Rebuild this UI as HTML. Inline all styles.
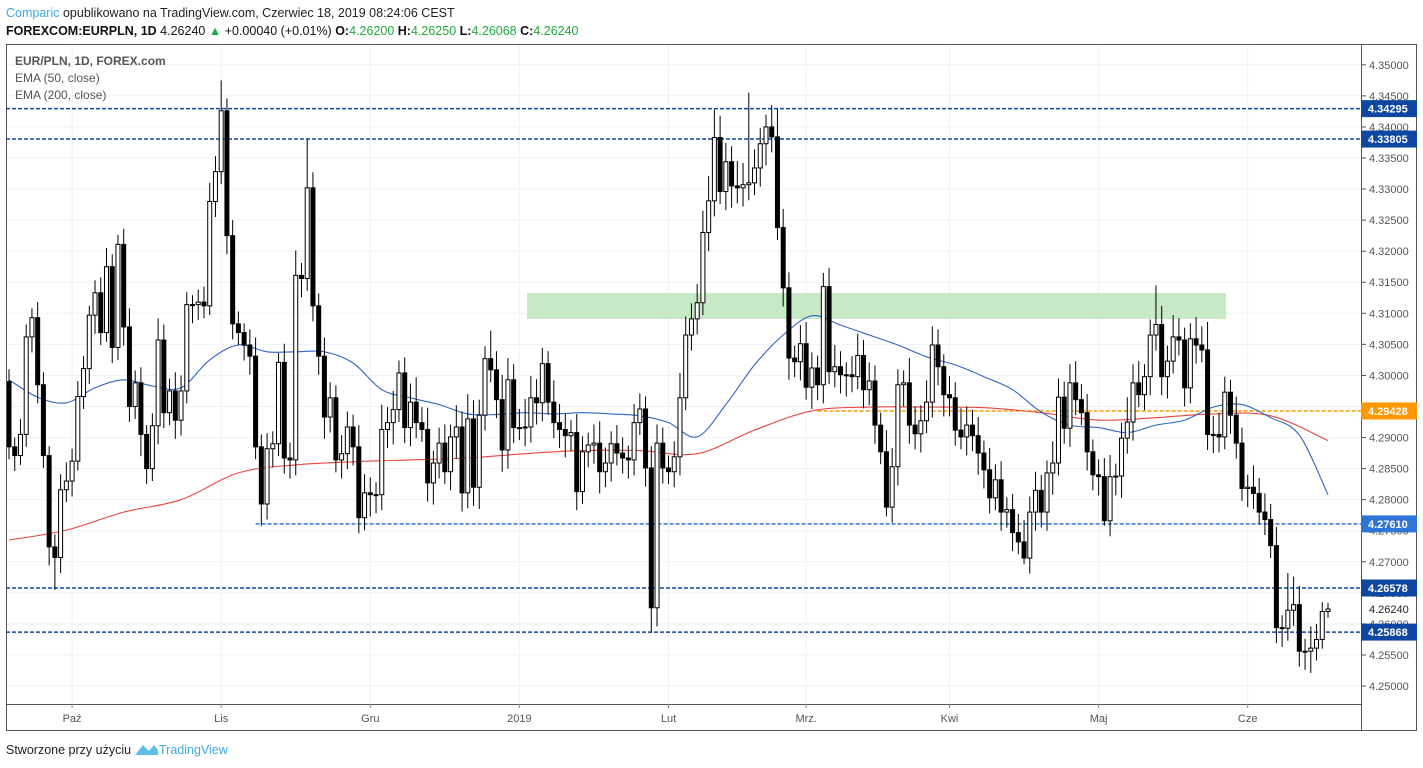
<!DOCTYPE html>
<html><head><meta charset="utf-8"><title>EUR/PLN</title>
<style>
html,body{margin:0;padding:0;background:#fff;}
svg{display:block;font-family:"Liberation Sans",sans-serif;}
</style></head>
<body>
<svg id="chart" width="1423" height="768" viewBox="0 0 1423 768" xmlns="http://www.w3.org/2000/svg">
  <text x="6" y="17" font-size="12.5" fill="#222"><tspan fill="#3fa9e0">Comparic</tspan> opublikowano na TradingView.com, Czerwiec 18, 2019 08:24:06 CEST</text>
  <text x="6" y="35" font-size="12.5" fill="#111"><tspan font-weight="bold">FOREXCOM:EURPLN, 1D</tspan> 4.26240 <tspan fill="#1faa3a">▲</tspan> +0.00040 (+0.01%) <tspan font-weight="bold">O:</tspan><tspan fill="#1faa3a">4.26200</tspan> <tspan font-weight="bold">H:</tspan><tspan fill="#1faa3a">4.26250</tspan> <tspan font-weight="bold">L:</tspan><tspan fill="#1faa3a">4.26068</tspan> <tspan font-weight="bold">C:</tspan><tspan fill="#1faa3a">4.26240</tspan></text>
  <g id="grid"></g>
  <rect x="527" y="293" width="699" height="26" fill="#c8e9c6"/>
  <g id="hlines"></g>
  <g id="emas"></g>
  <g id="candles"></g>
  <rect x="6.5" y="44.5" width="1410" height="686" fill="none" stroke="#555" stroke-width="1"/>
  <line x1="1361.5" y1="44" x2="1361.5" y2="731" stroke="#555"/>
  <line x1="6" y1="704.5" x2="1361" y2="704.5" stroke="#555"/>
  <g id="yaxis"></g>
  <g id="xaxis"></g>
  <g id="labels"></g>
  <text x="15" y="65" font-size="12" font-weight="bold" fill="#555">EUR/PLN, 1D, FOREX.com</text>
  <text x="15" y="82" font-size="12" fill="#555">EMA (50, close)</text>
  <text x="15" y="99" font-size="12" fill="#555">EMA (200, close)</text>
  <text x="6" y="754" font-size="12.5" fill="#222">Stworzone przy użyciu</text>
  <g>
    <path d="M135 755 L143 745 L149 751 L154 745 L158 750 L158 755 Z" fill="#5bbfe8"/>
    <text x="159" y="754" font-size="12.5" fill="#3fa9e0">TradingView</text>
  </g>
</svg>
<script>
const closes = [
4.2885,4.2871,4.2905,4.3062,4.3093,4.2985,4.2871,4.2724,4.2707,4.2816,
4.2830,4.2862,4.2966,4.3011,4.3097,4.3133,4.3069,4.3175,4.3045,4.3211,
4.3078,4.2950,4.2988,4.2905,4.2850,4.2919,4.3057,4.2940,4.2975,4.2928,
4.2975,4.3114,4.3114,4.3118,4.3112,4.3280,4.3328,4.3426,4.3225,4.3083,
4.3069,4.3049,4.3031,4.2885,4.2793,4.2882,4.2890,4.3021,4.2867,4.2864,
4.3161,4.3156,4.3302,4.3112,4.3031,4.2933,
4.2964,4.2864,4.2874,4.2917,4.2885,4.2771,4.2811,4.2808,4.2808,4.2913,
4.2924,4.2945,4.3004,4.2916,4.2957,4.2924,4.2913,4.2827,4.2859,4.2891,
4.2845,4.2901,4.2917,4.2811,4.2930,4.2820,4.2936,4.3027,4.3009,4.2961,
4.2880,4.2993,4.2916,4.2916,4.2917,4.2964,4.2956,4.3019,4.2957,4.2924,
4.2913,4.2903,4.2908,4.2813,4.2877,4.2888,4.2891,4.2845,4.2859,4.2890,
4.2875,4.2867,4.2864,4.2924,4.2946,4.2851,4.2626,4.2891,4.2851,4.2845,
4.2869,4.2964,4.3065,4.3091,4.3117,4.3230,4.3281,4.3383,4.3296,4.3344,
4.3305,4.3302,4.3307,4.3310,4.3334,4.3373,4.3400,4.3384,4.3238,4.3141,
4.3028,4.3022,4.3051,4.2981,4.3012,4.2985,4.3143,4.3006,4.3014,4.3001,
4.3001,4.2998,4.3032,4.2977,4.2991,4.2920,4.2877,4.2788,4.2853,4.2985,
4.2988,4.2920,4.2906,4.2927,4.2957,4.3049,4.3014,4.2969,4.2964,4.2912,
4.2901,4.2920,4.2903,4.2875,4.2848,4.2803,4.2832,4.2780,4.2784,4.2747,
4.2732,4.2706,4.2780,4.2815,4.2780,4.2843,4.2859,4.2965,4.2915,4.2988,
4.2961,4.2940,4.2877,4.2840,4.2837,4.2766,4.2837,4.2838,4.2899,4.2925,
4.2988,4.2969,4.2998,4.3065,4.3082,4.2998,4.3023,4.3062,4.3057,4.2980,
4.3059,4.3049,4.3041,4.2905,4.2905,4.2901,4.2973,4.2936,4.2891,4.2818,
4.2820,4.2810,4.2780,4.2768,4.2726,4.2594,4.2593,4.2622,4.2631,4.2556,
4.2556,4.2561,4.2575,4.2620,4.2624];
const firstOpen = 4.2990;
// wick lengths above/below the body, in 0.0001 units
const wickUp = [
20,15,25,20,15,25,20,15,20,25, 30,20,25,20,15,20,25,30,20,15,
25,30,20,25,15,20,35,25,20,30, 25,20,15,20,25,30,25,49,20,25,
20,15,25,30,20,25,20,15,30,25, 40,20,78,25,20,30,25,20,30,25,
20,35,30,25,20,40,25,30,20,25, 30,40,25,35,20,25,30,20,35,25,
40,30,25,20,45,30,40,35,25,30, 45,35,30,25,20,35,30,25,20,30,
25,20,30,35,25,20,30,25,20,30, 25,20,35,30,25,20,25,40,30,25,
30,35,40,45,35,30,25,40,35,145, 30,25,20,35,45,30,25,20,30,35,
25,20,22,30,35,25,20,30,35,25, 30,25,20,35,30,25,20,40,30,25,
35,30,25,20,30,25,35,30,25,30, 20,35,25,30,20,25,30,35,25,30,
25,20,35,30,25,30,35,25,30,20, 25,30,35,20,25,40,30,35,20,25,
63,30,25,35,30,20,25,35,30,45, 30,35,25,20,30,25,20,35,25,30,
25,30,20,60,45,30,20,35,25,15, 10];
const wickDn = [
20,25,15,20,25,30,20,30,52,25, 20,25,15,20,25,30,20,15,25,20,
30,25,20,35,25,20,30,25,20,30, 25,20,30,25,20,15,25,20,30,25,
20,25,30,20,35,25,30,20,25,30, 25,30,20,25,30,35,25,20,30,25,
30,25,20,35,30,25,30,35,20,25, 30,25,20,30,35,25,20,30,35,30,
25,30,35,25,20,30,35,30,25,20, 30,25,35,30,20,25,30,35,25,30,
20,25,30,35,25,30,20,25,30,25, 20,30,40,30,25,20,25,30,20,25,
25,20,30,25,20,30,35,25,30,25, 20,30,35,25,20,30,35,25,30,20,
35,25,30,20,25,30,35,25,20,30, 25,30,20,15,25,30,35,30,25,30,
20,25,30,35,30,25,20,30,25,35, 30,25,20,30,25,30,20,10,25,30,
25,30,35,20,25,30,25,20,30,25, 30,8,25,30,35,25,30,20,25,30,
25,30,35,20,25,30,25,30,20,25, 30,25,20,30,25,20,30,25,20,25,
20,25,30,20,25,25,30,35,20,15, 10];
// EMA 50 sampled every 5 candles, EMA 200 every 10 candles
const ema50 = [4.2993,4.2965,4.2956,4.2980,4.2993,4.2983,4.2980,4.3025,4.3049,4.3038,
4.3038,4.3038,4.3020,4.2977,4.2964,4.2953,4.2938,4.2937,4.2940,4.2938,
4.2940,4.2938,4.2935,4.2924,4.2901,4.2953,4.3017,4.3065,4.3096,4.3081,
4.3065,4.3049,4.3030,4.3017,4.2998,4.2977,4.2941,4.2920,4.2916,4.2908,
4.2920,4.2928,4.2949,4.2953,4.2932,4.2904,4.2808];
const ema200 = [4.2735,4.2751,4.2780,4.2800,4.2843,4.2856,4.2861,4.2864,4.2867,4.2874,
4.2879,4.2879,4.2874,4.2912,4.2943,4.2949,4.2949,4.2948,4.2940,4.2928,
4.2932,4.2938,4.2935,4.2895];
const priceTicks = [4.25,4.255,4.26,4.265,4.27,4.275,4.28,4.285,4.29,4.295,4.30,4.305,4.31,4.315,4.32,4.325,4.33,4.335,4.34,4.345,4.35];
const monthLabels = ["Paź","Lis","Gru","2019","Lut","Mrz.","Kwi","Maj","Cze"];
const monthIndex = [11,37,63,89,115,139,164,190,216];
const levelPrices = [4.34295,4.33805,4.29428,4.27610,4.26578,4.25868];
const levelKinds = ["navy","navy","orange","blue","navy","navy"];
const levelStartIndex = [0,0,141,43,0,0];
const lastPrice = 4.26240;

const NS="http://www.w3.org/2000/svg";
const X0=9, X1=1328, N=closes.length;
function xS(i){return X0+i*(X1-X0)/(N-1);}
function yS(p){return 313.3-(p-4.31)*6212;}
function mk(tag,attrs,parent){const e=document.createElementNS(NS,tag);for(const k in attrs)e.setAttribute(k,attrs[k]);parent.appendChild(e);return e;}
const colors={navy:"#0d47a1",orange:"#ff9800",blue:"#2f74d9"};

// grid
const grid=document.getElementById('grid');
priceTicks.forEach(p=>{
  const l=mk('line',{x1:6,x2:1361,y1:yS(p),y2:yS(p),stroke:"#edf1f7","stroke-width":1},grid);
  
  
});
monthIndex.forEach(i=>{
  const l=mk('line',{x1:xS(i),x2:xS(i),y1:44,y2:704,stroke:"#edf1f7","stroke-width":1},grid);
  
  
});

// y axis
const ya=document.getElementById('yaxis');
priceTicks.forEach(p=>{
  const y=yS(p);
  const t=mk('line',{x1:1361,x2:1366,y1:y,y2:y,stroke:"#555"},ya);
  
  
  const tx=mk('text',{x:1369,y:y+4,"font-size":11,fill:"#555"},ya);
  tx.textContent=p.toFixed(5);
  
  
});

// x axis
const xa=document.getElementById('xaxis');
monthLabels.forEach((m,k)=>{
  const x=xS(monthIndex[k]);
  const t=mk('line',{x1:x,x2:x,y1:704,y2:708,stroke:"#888"},xa);
  
  
  const tx=mk('text',{x:x,y:722,"font-size":11,fill:"#555","text-anchor":"middle"},xa);
  tx.textContent=m;
  
  
});

// horizontal levels
const hl=document.getElementById('hlines');
levelPrices.forEach((p,k)=>{
  const y=yS(p);
  const l=mk('line',{x1:levelStartIndex[k]?xS(levelStartIndex[k]):6,x2:1361,y1:y,y2:y,stroke:colors[levelKinds[k]],"stroke-width":1.5,"stroke-dasharray":"4,2"},hl);
  
  
});

// EMAs (smoothed Catmull-Rom through sampled values)
const eg=document.getElementById('emas');
function emaPath(arr,step,color,name){
  const P=arr.map((v,k)=>[xS(Math.min(k*step,N-1)),yS(v)]);
  let d="M"+P[0][0].toFixed(1)+","+P[0][1].toFixed(1);
  for(let i=0;i<P.length-1;i++){
    const p0=P[Math.max(0,i-1)],p1=P[i],p2=P[i+1],p3=P[Math.min(P.length-1,i+2)];
    const c1x=p1[0]+(p2[0]-p0[0])/6,c1y=p1[1]+(p2[1]-p0[1])/6;
    const c2x=p2[0]-(p3[0]-p1[0])/6,c2y=p2[1]-(p3[1]-p1[1])/6;
    d+=" C"+c1x.toFixed(1)+","+c1y.toFixed(1)+" "+c2x.toFixed(1)+","+c2y.toFixed(1)+" "+p2[0].toFixed(1)+","+p2[1].toFixed(1);
  }
  const pl=mk('path',{d:d,fill:"none",stroke:color,"stroke-width":1.1},eg);
  
  
}
emaPath(ema200,10,"#e8453c","ema200-line");
emaPath(ema50,5,"#2f66c4","ema50-line");

// candles
const cg=document.getElementById('candles');
for(let i=0;i<N;i++){
  const o=i===0?firstOpen:closes[i-1], c=closes[i];
  const hi=Math.max(o,c)+wickUp[i]/10000, lo=Math.min(o,c)-wickDn[i]/10000;
  const x=xS(i);
  const w=mk('line',{x1:x,x2:x,y1:yS(hi),y2:yS(lo),stroke:"#000","stroke-width":1},cg);
  
  
  const top=yS(Math.max(o,c)), bot=yS(Math.min(o,c));
  const b=mk('rect',{x:x-2,y:top,width:4,height:Math.max(1,bot-top),fill:c>=o?"#fff":"#000",stroke:"#000","stroke-width":1},cg);
  
  
}

// level labels
const lg=document.getElementById('labels');
const cur=mk('text',{x:1369,y:yS(lastPrice)+4,"font-size":11,fill:"#222"},lg);
cur.textContent=lastPrice.toFixed(5);


levelPrices.forEach((p,k)=>{
  const y=yS(p);
  const r=mk('rect',{x:1361,y:y-8.5,width:56,height:17,fill:colors[levelKinds[k]]},lg);
  
  
  const t=mk('text',{x:1368,y:y+4,"font-size":11,"font-weight":"bold",fill:"#fff"},lg);
  t.textContent=p.toFixed(5);
  
  
});
</script>
</body></html>
